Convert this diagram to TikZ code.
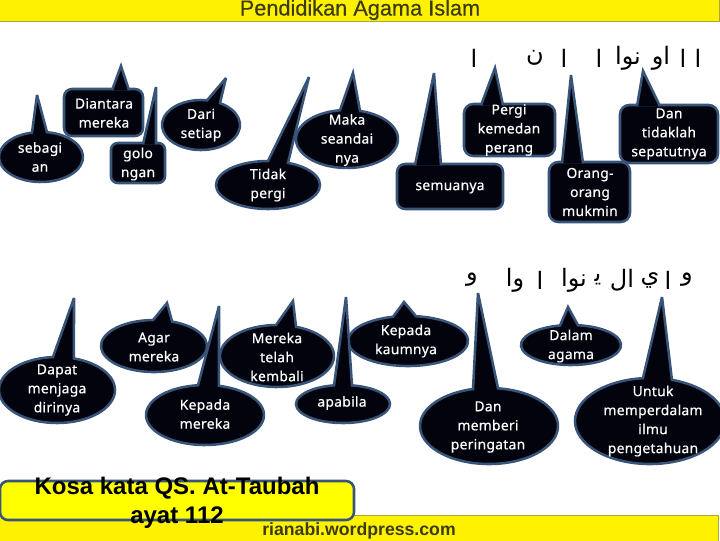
\documentclass[tikz,border=0pt]{standalone}
\usepackage{fontspec}
\usepackage{xcolor}
\TeXXeTstate=1
\setmainfont{Liberation Sans}
\newfontfamily\talkfont{Noto Sans}[LetterSpace=2,FakeBold=0.5]
\newfontfamily\judulfont{Liberation Sans}[FakeBold=0.4]
\newfontfamily\arabicfont[Script=Arabic]{DejaVu Sans}
\definecolor{bandyellow}{RGB}{255,242,0}
\definecolor{boxyellow}{RGB}{255,255,0}
\definecolor{bandedge}{RGB}{170,165,60}
\definecolor{balloonedge}{RGB}{56,84,120}
\definecolor{balloonfill}{RGB}{3,3,14}
\definecolor{headink}{RGB}{60,58,20}
\begin{document}
\begin{tikzpicture}[x=0.75pt,y=0.75pt,yscale=-1,xscale=1,
  balloon/.style={draw=balloonedge,fill=balloonfill,line width=1.9pt,line join=miter,miter limit=4},
  talk/.style={inner sep=0.75pt,align=center,text=white,font=\talkfont\fontsize{10.4}{14.25}\selectfont},
  arabic/.style={inner sep=0.75pt,font=\arabicfont\fontsize{18}{18}\selectfont}]
\useasboundingbox (0,0) rectangle (720,540);

%Shape: Rectangle, top band
\draw [draw=bandedge,fill=bandyellow,line width=0.75pt] (-2,-2) rectangle (719.5,21) ;
%Shape: Rectangle, bottom band
\draw [draw=bandedge,fill=bandyellow,line width=0.75pt] (-2,515) rectangle (718,542) ;

%Shape: Ellipse callouts, top row
\draw [balloon] (41,157) ++(-81.8:42 and 25) arc [start angle=-81.8, end angle=257.6, x radius=42, y radius=25] -- (37,95) -- cycle ;
\draw [balloon] (201,125) ++(-60.9:39 and 25) arc [start angle=-60.9, end angle=278.9, x radius=39, y radius=25] -- (226,78) -- cycle ;
\draw [balloon] (347,139) ++(-75.2:51 and 29) arc [start angle=-75.2, end angle=262.1, x radius=51, y radius=29] -- (353,73) -- cycle ;
\draw [balloon] (268,185) ++(-67.4:52 and 24) arc [start angle=-67.4, end angle=270, x radius=52, y radius=24] -- (309,77) -- cycle ;
%Shape: Rounded callouts, top row
\draw [balloon,rounded corners=6] (64,89) rectangle (143,136) ;
\draw [balloon] (129,90.3) -- (121,66) -- (112,90.3) ;
\draw [balloon,rounded corners=5] (111,143) rectangle (165,183) ;
\draw [balloon] (156,144.3) -- (156,87) -- (143,144.3) ;
\draw [balloon,rounded corners=6] (397,164) rectangle (503,209) ;
\draw [balloon] (441,165.3) -- (434,73) -- (415,165.3) ;
\draw [balloon,rounded corners=7] (464,104) rectangle (555,156) ;
\draw [balloon] (503,105.3) -- (495,68) -- (481,105.3) ;
\draw [balloon,rounded corners=7] (549,162) rectangle (630,222) ;
\draw [balloon] (583,163.3) -- (571,75) -- (562,163.3) ;
\draw [balloon,rounded corners=7] (620,105) rectangle (718,163) ;
\draw [balloon] (660,106.3) -- (643,71) -- (637,106.3) ;

%Shape: Ellipse callouts, bottom row
\draw [balloon] (57,390) ++(-73:58 and 33) arc [start angle=-73, end angle=266, x radius=58, y radius=33] -- (74,298) -- cycle ;
\draw [balloon] (154,346) ++(-70:53 and 26) arc [start angle=-70, end angle=269, x radius=53, y radius=26] -- (167,303) -- cycle ;
\draw [balloon] (277,356) ++(-70.5:57 and 31) arc [start angle=-70.5, end angle=269, x radius=57, y radius=31] -- (293,301) -- cycle ;
\draw [balloon] (408,341) ++(-82.3:60 and 25) arc [start angle=-82.3, end angle=255.5, x radius=60, y radius=25] -- (404,302) -- cycle ;
\draw [balloon] (205,415) ++(-76.3:59 and 30) arc [start angle=-76.3, end angle=263.2, x radius=59, y radius=30] -- (219,306) -- cycle ;
\draw [balloon] (343,404) ++(-79:47 and 19) arc [start angle=-79, end angle=259, x radius=47, y radius=19] -- (346,297) -- cycle ;
\draw [balloon] (571,345) ++(-82:50 and 20) arc [start angle=-82, end angle=257.3, x radius=50, y radius=20] -- (568,307) -- cycle ;
\draw [balloon] (489,426) ++(-82.5:69 and 38) arc [start angle=-82.5, end angle=256.6, x radius=69, y radius=38] -- (478,293) -- cycle ;
\draw [balloon] (650,421) ++(-73:75 and 43) arc [start angle=-73, end angle=264.6, x radius=75, y radius=43] -- (662,297) -- cycle ;

%Shape: Rounded Rectangle, caption
\draw [draw=balloonedge,fill=boxyellow,line width=1.9pt,rounded corners=6] (0,481) rectangle (354,520) ;

% Text Node
\draw (360,15.5) node (judul) [anchor=base,text=headink,font=\judulfont\fontsize{16.3}{18}\selectfont] {Pendidikan Agama Islam};
% Text Node
\draw (359,535) node (situs) [anchor=base,text=headink,font=\bfseries\fontsize{13.25}{18}\selectfont] {rianabi.wordpress.com};
% Text Node
\draw (177,503) node (kosakata) [align=center,text=black,font=\bfseries\fontsize{18}{21.75}\selectfont] {Kosa kata QS. At-Taubah\\ayat 112};

% Text Node
\draw (40,157) node (sebagian) [talk] {sebagi\\an};
\draw (104,113) node (diantara) [talk] {Diantara\\mereka};
\draw (138,164) node (golongan) [talk] {golo\\ngan};
\draw (201,125) node (dari) [talk] {Dari\\setiap};
\draw (268,185) node (tidak) [talk] {Tidak\\pergi};
\draw (347,140) node (maka) [talk] {Maka\\seandai\\nya};
\draw (450,188) node (semuanya) [talk] {semuanya};
\draw (509,130) node (pergi) [talk] {Pergi\\kemedan\\perang};
\draw (590,192) node (orang) [talk] {Orang-\\orang\\mukmin};
\draw (669,134) node (tidaklah) [talk] {Dan\\tidaklah\\sepatutnya};
\draw (57,390) node (dapat) [talk] {Dapat\\menjaga\\dirinya};
\draw (154,347) node (agar) [talk] {Agar\\mereka};
\draw (205,414) node (kepada) [talk] {Kepada\\mereka};
\draw (277,357) node (kembali) [talk] {Mereka\\telah\\kembali};
\draw (342,403) node (apabila) [talk] {apabila};
\draw (406,341) node (kaumnya) [talk] {Kepada\\kaumnya};
\draw (571,346) node (dalam) [talk] {Dalam\\agama};
\draw (488,427) node (memberi) [talk] {Dan\\memberi\\peringatan};
\draw (653,421) node (untuk) [talk] {Untuk\\memperdalam\\ilmu\\pengetahuan};

% Text Node
\draw (698,58) node (ata) [arabic] {\beginR ا\endR};
\draw (683,58) node (atb) [arabic] {\beginR ا\endR};
\draw (661,58) node (atc) [arabic] {\beginR او\endR};
\draw (628,58) node (atd) [arabic] {\beginR نوا\endR};
\draw (599,58) node (ate) [arabic] {\beginR ا\endR};
\draw (564,58) node (atf) [arabic] {\beginR ا\endR};
\draw (535,58) node (atg) [arabic] {\beginR ن\endR};
\draw (474,58) node (ath) [arabic] {\beginR ا\endR};

% Text Node
\draw (687,280) node (bwa) [arabic] {\beginR و\endR};
\draw (668,280) node (bwb) [arabic] {\beginR ا\endR};
\draw (650,280) node (bwc) [arabic] {\beginR ي\endR};
\draw (622,280) node (bwd) [arabic] {\beginR ال\endR};
\draw (598,280) node (bwe) [arabic] {\beginR ﻳ\endR};
\draw (574,280) node (bwf) [arabic] {\beginR نوا\endR};
\draw (540,280) node (bwg) [arabic] {\beginR ا\endR};
\draw (515,280) node (bwh) [arabic] {\beginR وا\endR};
\draw (472,280) node (bwi) [arabic] {\beginR و\endR};

\end{tikzpicture}
\end{document}
